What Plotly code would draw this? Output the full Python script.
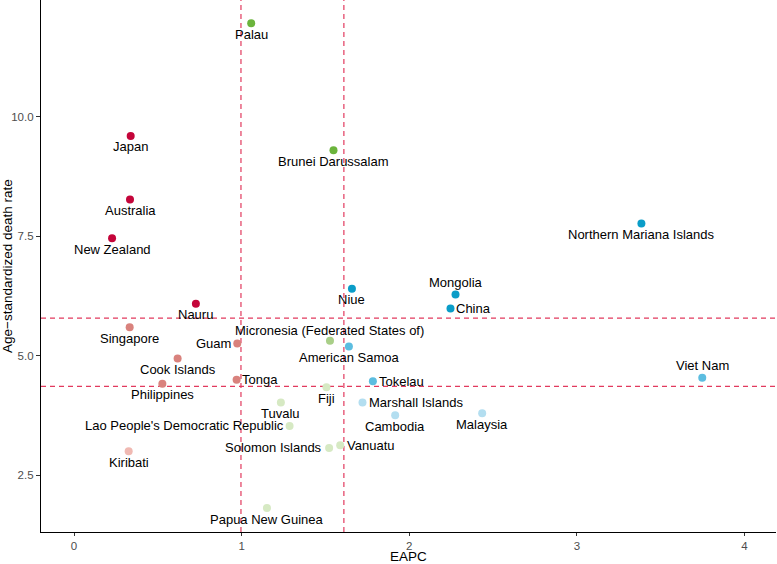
import plotly.graph_objects as go

# ---- data ----
countries = [
    "Palau", "Brunei Darussalam", "Japan", "Australia", "New Zealand", "Nauru",
    "Singapore", "Guam", "Cook Islands", "Tonga", "Philippines", "Kiribati",
    "Niue", "Mongolia", "China", "Micronesia (Federated States of)", "American Samoa",
    "Tokelau", "Fiji", "Tuvalu", "Marshall Islands", "Cambodia", "Malaysia",
    "Lao People's Democratic Republic", "Solomon Islands", "Vanuatu",
    "Papua New Guinea", "Viet Nam", "Northern Mariana Islands",
]
eapc = [
    1.057, 1.548, 0.338, 0.334, 0.227, 0.727,
    0.332, 0.974, 0.618, 0.970, 0.527, 0.326,
    1.658, 2.276, 2.246, 1.527, 1.640,
    1.783, 1.506, 1.234, 1.721, 1.916, 2.435,
    1.286, 1.522, 1.588,
    1.151, 3.748, 3.385,
]
asdr = [
    11.957, 9.302, 9.602, 8.270, 7.459, 6.090,
    5.600, 5.259, 4.944, 4.498, 4.414, 3.002,
    6.405, 6.285, 5.992, 5.315, 5.196,
    4.469, 4.343, 4.022, 4.022, 3.757, 3.798,
    3.534, 3.073, 3.128,
    1.816, 4.540, 7.767,
]
eapc_cuts = [0.996, 1.61]
asdr_cuts = [4.36, 5.79]
x_ticks = [0, 1, 2, 3, 4]
y_ticks = [2.5, 5.0, 7.5, 10.0]

# ---- styles ----
# rows: high / mid / low rate; cols: low / mid / high EAPC
palette = [
    ["#C4053A", "#6BB43C", "#0A9DC8"],
    ["#D9827D", "#A9CF88", "#5CBDE0"],
    ["#F0B9B2", "#D6E9C3", "#B3DEF0"],
]

def colour(x, y):
    col = 0 if x < eapc_cuts[0] else (1 if x < eapc_cuts[1] else 2)
    row = 0 if y >= asdr_cuts[1] else (1 if y >= asdr_cuts[0] else 2)
    return palette[row][col]

colors = [colour(x, y) for x, y in zip(eapc, asdr)]

# label placement: (anchor, dx px, dy px down)
place = {
    "Guam": ("right", -5, 0),
    "Tonga": ("left", 4, 0),
    "Lao People's Democratic Republic": ("right", -5, 0),
    "Solomon Islands": ("right", -6, 0),
    "Vanuatu": ("left", 6, 0),
    "Tokelau": ("left", 5, 0),
    "Marshall Islands": ("left", 6, 0),
    "China": ("left", 5, 0),
    "Micronesia (Federated States of)": ("center", 0, -10),
    "Mongolia": ("center", 0, -12),
    "Viet Nam": ("center", 0, -12),
}

FONT = "Liberation Sans, Arial, Helvetica, sans-serif"

fig = go.Figure()
fig.add_trace(go.Scatter(
    x=eapc, y=asdr, mode="markers",
    marker=dict(size=8, color=colors, line=dict(width=0)),
    hovertext=countries, hoverinfo="text", showlegend=False,
))

for c in eapc_cuts:
    fig.add_vline(x=c, line=dict(color="#E23A5E", width=1.2, dash="5px,4px"), layer="below")
for c in asdr_cuts:
    fig.add_hline(y=c, line=dict(color="#E23A5E", width=1.2, dash="5px,4px"), layer="below")

annotations = []
for name, x, y in zip(countries, eapc, asdr):
    anchor, dx, dy = place.get(name, ("center", 0, 11))
    annotations.append(dict(
        x=x, y=y, xref="x", yref="y", text=name, showarrow=False,
        xanchor=anchor, yanchor="middle", xshift=dx, yshift=-dy,
        font=dict(family=FONT, size=13, color="#000000"), borderpad=0,
    ))

annotations.append(dict(
    x=0.5, y=0, xref="paper", yref="paper", text="EAPC", showarrow=False,
    xanchor="center", yanchor="middle", yshift=-24,
    font=dict(family=FONT, size=13.5, color="#000000"),
))
annotations.append(dict(
    x=0, y=0.5, xref="paper", yref="paper", text="Age\u2212standardized death rate",
    showarrow=False, textangle=-90, xanchor="center", yanchor="middle", xshift=-34,
    font=dict(family=FONT, size=13.5, color="#000000"),
))

fig.update_layout(
    width=777, height=564,
    margin=dict(l=41, r=1, t=0, b=32, autoexpand=False),
    paper_bgcolor="white", plot_bgcolor="white",
    font=dict(family=FONT),
    annotations=annotations,
    xaxis=dict(
        range=[-0.197, 4.188], tickvals=x_ticks, ticktext=[str(v) for v in x_ticks],
        showgrid=False, zeroline=False, showline=True, linecolor="#000000", linewidth=1.2,
        ticks="outside", ticklen=3, tickcolor="#333333", tickwidth=1, automargin=False,
        tickfont=dict(family=FONT, size=11.5, color="#4D4D4D"),
    ),
    yaxis=dict(
        range=[1.314, 12.445], tickvals=y_ticks, ticktext=[f"{v:.1f}" for v in y_ticks],
        showgrid=False, zeroline=False, showline=True, linecolor="#000000", linewidth=1.2,
        ticks="outside", ticklen=4, tickcolor="#333333", tickwidth=1, automargin=False,
        tickfont=dict(family=FONT, size=11.5, color="#4D4D4D"),
    ),
)

fig.write_html(
    "out.html",
    config={"displayModeBar": False},
    post_script="document.body.style.margin='0';document.body.style.overflow='hidden';",
)
